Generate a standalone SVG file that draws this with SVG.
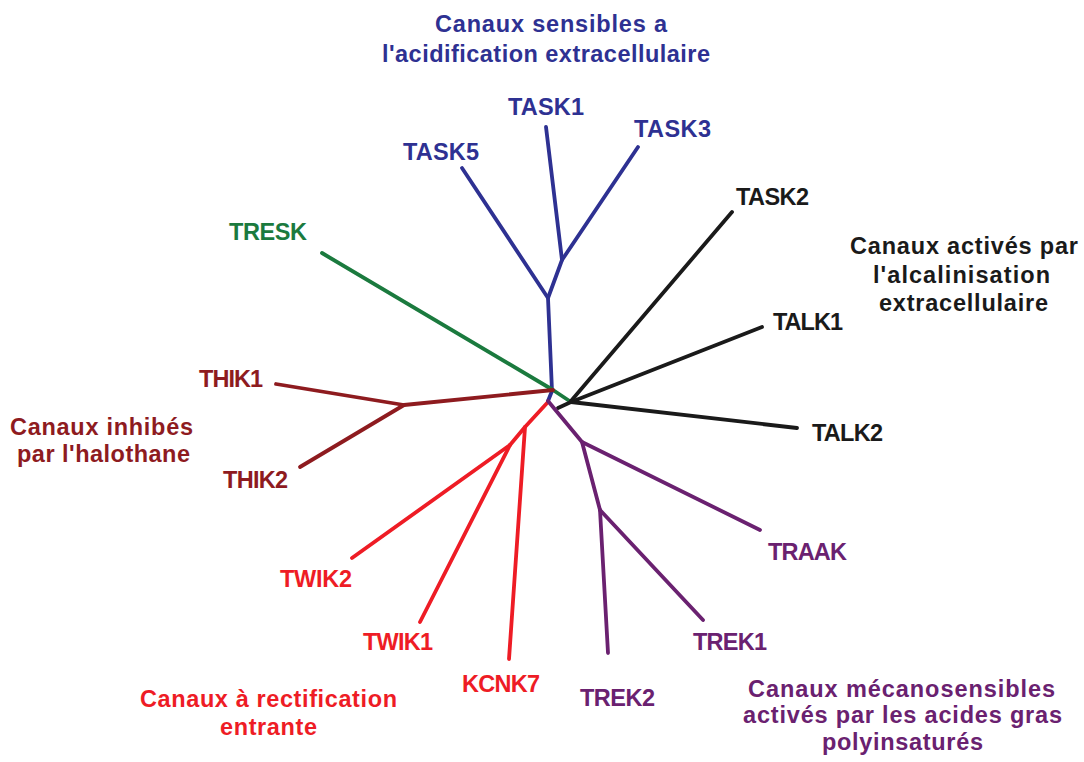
<svg xmlns="http://www.w3.org/2000/svg" width="1084" height="762" viewBox="0 0 1084 762">
<style>
text{font-family:"Liberation Sans",Arial,sans-serif;font-weight:bold;}
.lbl{font-size:23.5px;}
.ttl{font-size:23.5px;}
.e{fill:none;stroke-width:3.8;stroke-linecap:round;stroke-linejoin:round;}
.blue{stroke:#2E3192;} .tblue{fill:#2E3192;}
.green{stroke:#1B7A3E;} .tgreen{fill:#1B7A3E;}
.brown{stroke:#8E1B1F;} .tbrown{fill:#8E1B1F;}
.red{stroke:#EE1C25;} .tred{fill:#EE1C25;}
.purple{stroke:#6A2170;} .tpurple{fill:#6A2170;}
.black{stroke:#1A1A1A;} .tblack{fill:#1A1A1A;}
</style>
<rect width="1084" height="762" fill="#ffffff"/>
<g id="connectors">
  <!-- blue clade -->
  <polyline class="e blue" points="552,391 548,298 562,260 546,127"/>
  <line class="e blue" x1="548" y1="298" x2="462" y2="168"/>
  <line class="e blue" x1="562" y1="260" x2="638" y2="147"/>
  <line class="e blue" x1="552" y1="391" x2="548" y2="401"/>
  <!-- green -->
  <polyline class="e green" points="322,253 553,390 571,402"/>
  <!-- black clade -->
  <line class="e black" x1="571" y1="401" x2="732" y2="212"/>
  <line class="e black" x1="571" y1="402" x2="762" y2="327"/>
  <line class="e black" x1="571" y1="402" x2="797" y2="428"/>
  <line class="e black" x1="571" y1="402" x2="558" y2="408"/>
  <!-- brown clade -->
  <polyline class="e brown" points="553,390 404,405 276,384"/>
  <line class="e brown" x1="404" y1="405" x2="300" y2="467"/>
  <!-- red clade -->
  <polyline class="e red" points="548,402 525,427 510,445"/>
  <line class="e red" x1="525" y1="427" x2="509" y2="659"/>
  <line class="e red" x1="510" y1="445" x2="420" y2="622"/>
  <line class="e red" x1="510" y1="445" x2="352" y2="558"/>
  <!-- purple clade -->
  <polyline class="e purple" points="548,401 582,442 600,510"/>
  <line class="e purple" x1="582" y1="442" x2="760" y2="530"/>
  <line class="e purple" x1="600" y1="510" x2="703" y2="620"/>
  <line class="e purple" x1="600" y1="510" x2="608" y2="653"/>
</g>
<g id="TASK1"><text class="lbl tblue" x="508" y="115" textLength="76" lengthAdjust="spacing">TASK1</text></g>
<g id="TASK3"><text class="lbl tblue" x="634" y="137" textLength="77" lengthAdjust="spacing">TASK3</text></g>
<g id="TASK5"><text class="lbl tblue" x="403" y="160" textLength="76" lengthAdjust="spacing">TASK5</text></g>
<g id="TASK2"><text class="lbl tblack" x="736" y="205" textLength="73" lengthAdjust="spacing">TASK2</text></g>
<g id="TALK1"><text class="lbl tblack" x="773" y="330" textLength="70" lengthAdjust="spacing">TALK1</text></g>
<g id="TALK2"><text class="lbl tblack" x="812" y="441" textLength="71" lengthAdjust="spacing">TALK2</text></g>
<g id="TRESK"><text class="lbl tgreen" x="229" y="240" textLength="78" lengthAdjust="spacing">TRESK</text></g>
<g id="THIK1"><text class="lbl tbrown" x="199" y="387" textLength="64" lengthAdjust="spacing">THIK1</text></g>
<g id="THIK2"><text class="lbl tbrown" x="223" y="488" textLength="65" lengthAdjust="spacing">THIK2</text></g>
<g id="TWIK2"><text class="lbl tred" x="280" y="587" textLength="72" lengthAdjust="spacing">TWIK2</text></g>
<g id="TWIK1"><text class="lbl tred" x="363" y="650" textLength="70" lengthAdjust="spacing">TWIK1</text></g>
<g id="KCNK7"><text class="lbl tred" x="462" y="692" textLength="78" lengthAdjust="spacing">KCNK7</text></g>
<g id="TREK2"><text class="lbl tpurple" x="580" y="706" textLength="75" lengthAdjust="spacing">TREK2</text></g>
<g id="TREK1"><text class="lbl tpurple" x="693" y="650" textLength="74" lengthAdjust="spacing">TREK1</text></g>
<g id="TRAAK"><text class="lbl tpurple" x="768" y="560" textLength="79" lengthAdjust="spacing">TRAAK</text></g>
<g id="group-acid">
  <text class="ttl tblue" x="435" y="32" textLength="232" lengthAdjust="spacing">Canaux sensibles a</text>
  <text class="ttl tblue" x="382" y="62" textLength="328" lengthAdjust="spacing">l'acidification extracellulaire</text>
</g>
<g id="group-alcal">
  <text class="ttl tblack" x="850" y="254" textLength="228" lengthAdjust="spacing">Canaux activés par</text>
  <text class="ttl tblack" x="873" y="283" textLength="177" lengthAdjust="spacing">l'alcalinisation</text>
  <text class="ttl tblack" x="879" y="311" textLength="169" lengthAdjust="spacing">extracellulaire</text>
</g>
<g id="group-halo">
  <text class="ttl tbrown" x="10" y="435" textLength="183" lengthAdjust="spacing">Canaux inhibés</text>
  <text class="ttl tbrown" x="17" y="462" textLength="173" lengthAdjust="spacing">par l'halothane</text>
</g>
<g id="group-rect">
  <text class="ttl tred" x="140" y="707" textLength="257" lengthAdjust="spacing">Canaux à rectification</text>
  <text class="ttl tred" x="220" y="735" textLength="97" lengthAdjust="spacing">entrante</text>
</g>
<g id="group-meca">
  <text class="ttl tpurple" x="748" y="697" textLength="307" lengthAdjust="spacing">Canaux mécanosensibles</text>
  <text class="ttl tpurple" x="743" y="723" textLength="319" lengthAdjust="spacing">activés par les acides gras</text>
  <text class="ttl tpurple" x="822" y="750" textLength="161" lengthAdjust="spacing">polyinsaturés</text>
</g>
</svg>
